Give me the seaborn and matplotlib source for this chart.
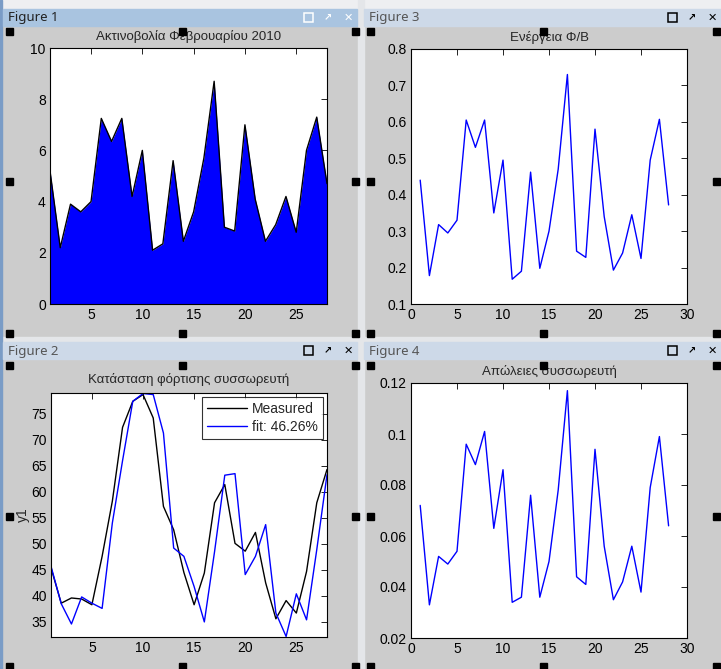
import matplotlib
matplotlib.use("Agg")
import numpy as np
import pandas as pd
import matplotlib.pyplot as plt
import seaborn as sns
from matplotlib.patches import Rectangle

# ---- data ----
days = list(range(1, 29))
radiation = [5.2, 2.2, 3.9, 3.6, 4.0, 7.25, 6.35, 7.25, 4.2, 6.0, 2.1, 2.35, 5.6, 2.45,
             3.6, 5.7, 8.7, 3.0, 2.85, 7.0, 4.1, 2.45, 3.1, 4.2, 2.8, 6.0, 7.3, 4.7]
energy = [0.44, 0.178, 0.318, 0.295, 0.33, 0.605, 0.53, 0.605, 0.35, 0.495, 0.168, 0.19,
          0.462, 0.198, 0.30, 0.47, 0.73, 0.245, 0.228, 0.58, 0.34, 0.193, 0.24, 0.345,
          0.225, 0.495, 0.607, 0.372]
losses = [0.072, 0.033, 0.052, 0.049, 0.054, 0.096, 0.088, 0.101, 0.063, 0.086, 0.034,
          0.036, 0.076, 0.036, 0.050, 0.078, 0.117, 0.044, 0.041, 0.094, 0.056, 0.035,
          0.042, 0.056, 0.038, 0.079, 0.099, 0.064]
soc_measured = [45.4, 38.6, 39.6, 39.4, 38.3, 47.6, 58.2, 72.4, 77.4, 78.7, 74.2, 57.2,
                52.7, 44.5, 38.3, 44.4, 57.9, 61.4, 50.1, 48.6, 52.2, 42.5, 35.6, 39.1,
                36.7, 44.7, 57.9, 64.3]
soc_fit = [45.7, 38.5, 34.6, 39.8, 38.6, 37.6, 54.0, 66.0, 77.4, 78.9, 78.7, 71.3,
           49.2, 47.6, 41.8, 35.0, 48.5, 63.2, 63.5, 44.1, 47.6, 53.7, 36.7, 32.2,
           40.4, 35.4, 48.9, 63.3]
fit_label = "fit: 46.26%"

W, H = 721, 669
GRAY = "#cccccc"
FONT = ["Liberation Sans", "DejaVu Sans"]

sns.set_style("white")
plt.rcParams["font.family"] = FONT
plt.rcParams["font.size"] = 9


def box(l, t, r, b):
    return [l / W, 1 - b / H, (r - l) / W, (b - t) / H]


fig = plt.figure(figsize=(W / 100, H / 100), dpi=100)
fig.patch.set_facecolor(GRAY)

# background: toolbar strip, separators, window title bars
bg = fig.add_axes([0, 0, 1, 1], zorder=-10)
bg.set_xlim(0, W)
bg.set_ylim(H, 0)
bg.axis("off")
bg.add_patch(Rectangle((0, 0), W, 9, color="#eeeff1"))
bg.add_patch(Rectangle((358, 0), 6, H, color="#e4e6e9"))
bg.add_patch(Rectangle((0, 337), W, 5, color="#e4e6e9"))
bg.add_patch(Rectangle((0, 0), 2, H, color="#7a9cc6"))

windows = [("Figure 1", 3, 357, 9, 26, True),
           ("Figure 3", 364, 721, 9, 26, False),
           ("Figure 2", 3, 357, 342, 359, False),
           ("Figure 4", 364, 721, 342, 359, False)]
for name, l, r, t, b, active in windows:
    bg.add_patch(Rectangle((l, t), r - l, b - t, color="#a9c4e0" if active else "#cdd9e8"))
    bg.text(l + 5, (t + b) / 2 + 0.5, name, fontsize=9.5, va="center", ha="left",
            color="#222222" if active else "#555555", family=["Noto Sans", "DejaVu Sans"])
    icon = "white" if active else "black"
    bg.add_patch(Rectangle((r - 53, t + 4), 9, 9, fill=False, edgecolor=icon, lw=1.1))
    bg.text(r - 29, (t + b) / 2, "\u2197", fontsize=7, ha="center", va="center",
            color=icon, family="DejaVu Sans", fontweight="bold")
    bg.text(r - 9, (t + b) / 2, "\u2715", fontsize=8, ha="center", va="center",
            color=icon, family="DejaVu Sans")


def matlab_axes(rect):
    ax = fig.add_axes(box(*rect))
    ax.set_facecolor("white")
    for s in ax.spines.values():
        s.set_color("black")
        s.set_linewidth(0.8)
    ax.tick_params(direction="in", top=True, right=True, length=4, width=0.6,
                   labelsize=10, colors="black", pad=3)
    ax.set_xlabel("")
    ax.set_ylabel("")
    return ax


# Figure 1: radiation (area)
ax1 = matlab_axes((50, 48, 327, 304))
ax1.fill_between(days, radiation, 0, color="#0000ff", lw=0)
sns.lineplot(x=days, y=radiation, color="black", lw=1, ax=ax1)
ax1.set_xlim(1, 28)
ax1.set_ylim(0, 10)
ax1.set_xticks([5, 10, 15, 20, 25])
ax1.set_yticks([0, 2, 4, 6, 8, 10])
ax1.set_title("Ακτινοβολία Φεβρουαρίου 2010", fontsize=9.5, pad=6)

# Figure 3: PV energy
ax3 = matlab_axes((411, 49, 687, 304))
sns.lineplot(x=days, y=energy, color="#0000ff", lw=1, ax=ax3)
ax3.set_xlim(0, 30)
ax3.set_ylim(0.1, 0.8)
ax3.set_xticks([0, 5, 10, 15, 20, 25, 30])
ax3.set_yticks([0.1, 0.2, 0.3, 0.4, 0.5, 0.6, 0.7, 0.8])
ax3.set_title("Ενέργεια Φ/Β", fontsize=9.5, pad=6)

# Figure 2: battery state of charge
ax2 = matlab_axes((51, 393, 327, 637))
soc = pd.DataFrame({"day": days * 2,
                    "y1": soc_measured + soc_fit,
                    "series": ["Measured"] * 28 + [fit_label] * 28})
sns.lineplot(data=soc, x="day", y="y1", hue="series",
             palette={"Measured": "black", fit_label: "#0000ff"}, lw=1, ax=ax2)
ax2.set_xlim(1, 28)
ax2.set_ylim(32.1, 79.0)
ax2.set_xticks([5, 10, 15, 20, 25])
ax2.set_yticks([35, 40, 45, 50, 55, 60, 65, 70, 75])
ax2.set_xlabel("")
ax2.set_ylabel("y1", fontsize=10, labelpad=1)
ax2.set_title("Κατάσταση φόρτισης συσσωρευτή", fontsize=9.5, pad=7)
leg = ax2.legend(loc="upper right", fontsize=10, frameon=True, fancybox=False,
                 borderpad=0.35, handlelength=2.9, handletextpad=0.35,
                 borderaxespad=0.3, labelspacing=0.3)
leg.get_frame().set_edgecolor("black")
leg.get_frame().set_linewidth(0.8)

# Figure 4: battery losses
ax4 = matlab_axes((411, 383, 687, 638))
sns.lineplot(x=days, y=losses, color="#0000ff", lw=1, ax=ax4)
ax4.set_xlim(0, 30)
ax4.set_ylim(0.02, 0.12)
ax4.set_xticks([0, 5, 10, 15, 20, 25, 30])
ax4.set_yticks([0.02, 0.04, 0.06, 0.08, 0.1, 0.12])
ax4.set_yticklabels(["0.02", "0.04", "0.06", "0.08", "0.1", "0.12"])
ax4.set_title("Απώλειες συσσωρευτή", fontsize=9.5, pad=6)

# overlay: selection handles of the docked figures
ov = fig.add_axes([0, 0, 1, 1], zorder=10)
ov.set_xlim(0, W)
ov.set_ylim(H, 0)
ov.axis("off")
ov.patch.set_alpha(0)
for xs in ([6, 179, 352], [367, 540, 713]):
    for ys in ([28, 178, 330], [362, 513, 663]):
        for i, x in enumerate(xs):
            for j, y in enumerate(ys):
                if i == 1 and j == 1:
                    continue
                ov.add_patch(Rectangle((x, y), 7, 7, color="black"))

fig.savefig("out.png", dpi=100, facecolor=fig.get_facecolor())
